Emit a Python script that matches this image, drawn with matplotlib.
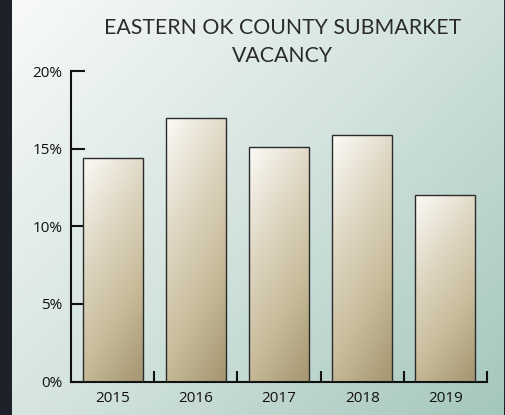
import numpy as np
import matplotlib.pyplot as plt
from matplotlib.colors import LinearSegmentedColormap

years = ['2015', '2016', '2017', '2018', '2019']
vacancy = [14.4, 17.0, 15.1, 15.9, 12.0]
y_ticks = [0, 5, 10, 15, 20]
y_tick_labels = ['0%', '5%', '10%', '15%', '20%']
title = 'EASTERN OK COUNTY SUBMARKET\nVACANCY'

plt.rcParams['font.family'] = ['Open Sans', 'DejaVu Sans']

fig = plt.figure(figsize=(5.06, 4.15), dpi=100)
fig.patch.set_facecolor('#1d222a')

# light teal panel with a diagonal gradient
bg = fig.add_axes([12 / 506, 0, 492 / 506, 1])
bg.axis('off')
yy, xx = np.mgrid[0:1:200j, 0:1:200j]
panel_cmap = LinearSegmentedColormap.from_list('panel', ['#f8faf9', '#d3e3de', '#a5c7bd'])
bg.imshow(xx * 0.55 + yy * 0.45, cmap=panel_cmap, aspect='auto',
          extent=[0, 1, 0, 1], origin='upper')
bg.set_xlim(0, 1)
bg.set_ylim(0, 1)

ax = fig.add_axes([71 / 506, 1 - 381.5 / 415, 416 / 506, 310.5 / 415])
ax.set_facecolor('none')

bars = ax.bar(range(len(years)), vacancy, width=0.72, facecolor='none',
              edgecolor='#2b2b2b', linewidth=1.0, zorder=3)

# tan gradient inside every bar
bar_cmap = LinearSegmentedColormap.from_list('bar', ['#fbfaf6', '#e0d8c5', '#c8bc9b', '#a59670'])
gy, gx = np.mgrid[0:1:100j, 0:1:100j]
grad = gx * 0.3 + gy * 0.7
for b in bars:
    x0, w, h = b.get_x(), b.get_width(), b.get_height()
    im = ax.imshow(grad, cmap=bar_cmap, aspect='auto', origin='upper',
                   extent=[x0, x0 + w, 0, h], zorder=2)
    im.set_clip_path(b)

ax.set_xlim(-0.5, len(years) - 0.5)
ax.set_ylim(0, 20)

for s in ['top', 'right']:
    ax.spines[s].set_visible(False)
for s in ['left', 'bottom']:
    ax.spines[s].set_linewidth(1.5)
    ax.spines[s].set_color('#111111')

ax.set_yticks(y_ticks)
ax.set_yticklabels(y_tick_labels)
ax.tick_params(axis='y', direction='in', length=10, width=1.5, color='#111111',
               labelsize=11, pad=6, labelcolor='#111111')

ax.set_xticks(range(len(years)))
ax.set_xticklabels(years)
ax.set_xticks(np.arange(0.5, len(years), 1), minor=True)
ax.tick_params(axis='x', which='major', length=0, labelsize=11, pad=7, labelcolor='#111111')
ax.tick_params(axis='x', which='minor', direction='in', length=8, width=1.5, color='#111111')

fig.text(283 / 506, 1 - 42 / 415, title, ha='center', va='center', fontsize=15.3,
         family=['Lato', 'DejaVu Sans'], color='#2a2a2a', linespacing=1.45)

fig.savefig('out.png', dpi=100, facecolor=fig.get_facecolor())
